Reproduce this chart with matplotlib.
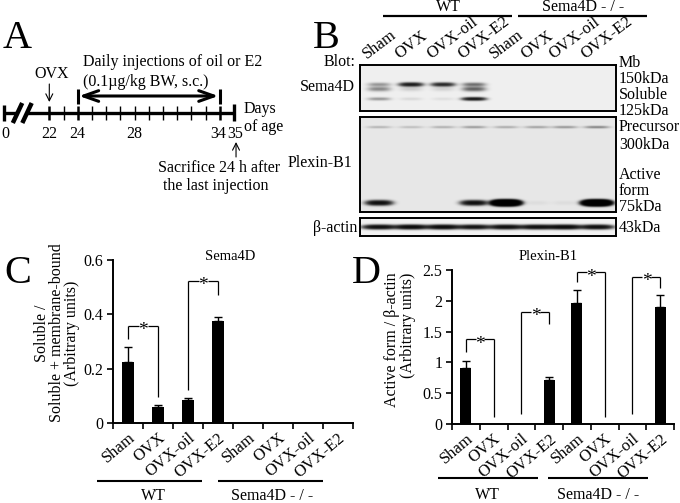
import numpy as np
import matplotlib
matplotlib.use('Agg')
import matplotlib.pyplot as plt
from matplotlib.patches import FancyArrowPatch, ArrowStyle

plt.rcParams['font.family'] = ['Liberation Serif', 'DejaVu Serif']
plt.rcParams['lines.solid_capstyle'] = 'butt'

# ---------------- data ----------------
groups = ['WT', 'Sema4D - / -']
treatments = ['Sham', 'OVX', 'OVX-oil', 'OVX-E2']
categories = treatments * 2

sema4d_ratio = [0.226, 0.060, 0.085, 0.377, 0, 0, 0, 0]
sema4d_err = [0.053, 0.006, 0.006, 0.014, 0, 0, 0, 0]
plexin_ratio = [0.91, 0, 0, 0.72, 1.97, 0, 0, 1.90]
plexin_err = [0.11, 0, 0, 0.05, 0.205, 0, 0, 0.20]

# significance brackets: (left bar, right bar, bracket height, left leg end, right leg end)
sema4d_sig = [(0, 1, 0.357, 0.31, 0.096), (2, 3, 0.523, 0.12, 0.47)]
plexin_sig = [(0, 1, 1.375, 1.17, 0.12), (2, 3, 1.82, 0.17, 1.63),
              (4, 5, 2.46, 2.31, 0.12), (6, 7, 2.39, 0.17, 2.20)]

timeline_days = list(range(22, 36))
timeline_labels = {22: '22', 24: '24', 28: '28', 34: '34', 35: '35'}
major_days = [22, 24, 34, 35]
ovx_day = 22
injection_days = (24, 34)
sacrifice_day = 35

# blot band densities per lane (Sham, OVX, OVX-oil, OVX-E2) x (WT, KO)
sema4d_mb_a = [0.18, 0.85, 0.70, 0.30, 0, 0, 0, 0]
sema4d_mb_b = [0.22, 0.06, 0.05, 0.35, 0, 0, 0, 0]
sema4d_soluble = [0.18, 0.04, 0.03, 0.90, 0, 0, 0, 0.0]
plexin_precursor = [0.10, 0.08, 0.11, 0.16, 0.12, 0.14, 0.17, 0.22]
plexin_active = [1.1, 0, 0, 1.1, 7.0, 0.02, 0.02, 7.0]
actin = [1.1, 1.2, 1.2, 1.0, 1.1, 1.1, 1.2, 1.1]

# ---------------- layout ----------------
W, H = 680, 503
fig = plt.figure(figsize=(6.8, 5.03), dpi=100)


def add_ax(x0, y0, x1, y1, **kw):
    return fig.add_axes([x0 / W, 1 - y1 / H, (x1 - x0) / W, (y1 - y0) / H], **kw)


ov = add_ax(0, 0, W, H)
ov.set_xlim(0, W)
ov.set_ylim(H, 0)
ov.axis('off')


def T(x, y, s, **kw):
    kw.setdefault('fontsize', 11)
    kw.setdefault('ha', 'center')
    kw.setdefault('va', 'center')
    ov.text(x, y, s, **kw)


def L(xs, ys, lw=1.5):
    ov.plot(xs, ys, color='black', lw=lw, solid_capstyle='butt')


# ---------------- panel A ----------------
px0, pday = 49.3, 14.2
axA = add_ax(0, 0, 300, 250)
axA.set_xlim(22 - px0 / pday, 22 + (300 - px0) / pday)
axA.set_ylim(250, 0)
axA.axis('off')
axA.patch.set_alpha(0)
d0 = 22 - (px0 - 3.5) / pday
b1 = d0 + 14.0 / pday
b2 = d0 + 23.5 / pday
yl = 113
axA.plot([d0, b1], [yl, yl], color='k', lw=2.4)
axA.plot([b2, timeline_days[-1]], [yl, yl], color='k', lw=2.4)
for b in (b1, b2):
    axA.plot([b - 0.33, b + 0.33], [123, 103], color='k', lw=3.2)
axA.plot([d0, d0], [105, 121], color='k', lw=2.4)
for d in timeline_days:
    if d == timeline_days[-1]:
        axA.plot([d, d], [104, 121], color='k', lw=2.4)
    elif d in major_days:
        axA.plot([d, d], [106, 120], color='k', lw=1.8)
    else:
        axA.plot([d, d], [106, 120], color='k', lw=1.0)
axA.text(d0 + 0.1, 134, '0', fontsize=11.5, ha='center', va='center')
for d, s in timeline_labels.items():
    dx = -0.1 if d == 34 else (0.1 if d == 35 else 0)
    axA.text(d + dx, 134, s, fontsize=11.5, ha='center', va='center')
for d in injection_days:
    axA.plot([d, d], [89, 104], color='k', lw=2.2)
axA.add_patch(FancyArrowPatch((injection_days[0], 96), (injection_days[1], 96),
                              arrowstyle=ArrowStyle('<->', head_length=0.9, head_width=0.32),
                              mutation_scale=12, lw=2.2, color='k', shrinkA=1, shrinkB=1))
axA.add_patch(FancyArrowPatch((ovx_day, 84), (ovx_day, 102),
                              arrowstyle=ArrowStyle('->', head_length=0.5, head_width=0.25),
                              mutation_scale=10, lw=0.8, color='k', shrinkA=0, shrinkB=0))
axA.add_patch(FancyArrowPatch((sacrifice_day + 0.15, 157), (sacrifice_day + 0.15, 142),
                              arrowstyle=ArrowStyle('->', head_length=0.5, head_width=0.25),
                              mutation_scale=10, lw=0.8, color='k', shrinkA=0, shrinkB=0))

T(3, 48, 'A', fontsize=29, ha='left', va='baseline')
T(83, 62, 'Daily injections of oil or E2', ha='left', fontsize=11.5)
T(83, 82, '(0.1µg/kg BW, s.c.)', ha='left', fontsize=11.5)
T(52, 74, 'OVX', fontsize=11.5)
T(244, 118, 'Days\nof age', ha='left', fontsize=11.5, linespacing=1.15)
T(219, 168, 'Sacrifice 24 h after', fontsize=11.5)
T(216, 186, 'the last injection', fontsize=11.5)

# ---------------- panel B (blots) ----------------
lanes = [379, 411, 443, 474, 506, 537, 565, 597]


def blot(y0, y1, bg, bands, x0=360, x1=616):
    ax = add_ax(x0, y0, x1, y1)
    res = 3
    X = np.linspace(x0, x1, (x1 - x0) * res)
    Y = np.linspace(y0, y1, (y1 - y0) * res)
    XX, YY = np.meshgrid(X, Y)
    dens = np.zeros_like(XX)
    for yc, wy, wx, inten in bands:
        for xc, I in zip(lanes, inten):
            if I <= 0:
                continue
            dens += I * np.exp(-np.abs((XX - xc) / wx) ** 3) * np.exp(-((YY - yc) / wy) ** 2)
    img = bg * np.exp(-2.6 * dens)
    ax.imshow(img, cmap='gray', vmin=0, vmax=1, extent=(x0, x1, y1, y0),
              aspect='auto', interpolation='bilinear')
    ax.set_xticks([])
    ax.set_yticks([])
    for s in ax.spines.values():
        s.set_linewidth(1.4)
    return ax


blot(65, 111, 0.94, [(84.5, 1.8, 11, sema4d_mb_a), (89, 2.2, 11, sema4d_mb_b),
                     (99, 1.5, 11, sema4d_soluble)])
blot(117, 212, 0.91, [(127, 1.2, 12, plexin_precursor), (203, 2.2, 12, plexin_active)])
blot(218, 236, 0.95, [(227, 2.0, 15, actin)])

T(313, 48, 'B', fontsize=29, ha='left', va='baseline')
T(448, 7, groups[0], fontsize=11.5)
L([383, 512], [16, 16], lw=1.6)
T(583, 7, groups[1], fontsize=11.5)
L([518, 647], [16, 16], lw=1.6)
for xc, c in zip(lanes, categories):
    T(xc - 12, 59, c, rotation=37, rotation_mode='anchor', ha='left', va='baseline', fontsize=12)
T(355, 62, 'Blot:', ha='right', fontsize=11.5)
T(355, 87, 'Sema4D', ha='right', fontsize=11.5)
T(352, 163, 'Plexin-B1', ha='right', fontsize=11.5)
T(357, 228, 'β-actin', ha='right', fontsize=11.5)
T(619, 87, 'Mb\n150kDa\nSoluble\n125kDa', ha='left', fontsize=11.5, linespacing=0.98)
T(619, 136, 'Precursor\n300kDa', ha='left', fontsize=11.5, linespacing=1.2)
T(619, 191, 'Active\nform\n75kDa', ha='left', fontsize=11.5, linespacing=0.98)
T(619, 228, '43kDa', ha='left', fontsize=11.5)


# ---------------- panels C and D ----------------
def bar_panel(x0, x1, ytop, ybot, ymax, yticks, yticklabels, values, errs, sigs):
    ax = add_ax(x0, ytop, x1, ybot)
    ax.patch.set_alpha(0)
    xs = np.arange(len(categories))
    ax.set_xlim(-0.5, len(categories) - 0.5)
    ax.set_ylim(0, ymax)
    ax.bar(xs, values, width=0.4, color='black', zorder=3)
    for x, v, e in zip(xs, values, errs):
        if e > 0:
            ax.errorbar(x, v, yerr=[[0], [e]], fmt='none', ecolor='black',
                        elinewidth=1.0, capsize=3, capthick=1.0, zorder=2)
    for s in ('top', 'right'):
        ax.spines[s].set_visible(False)
    for s in ('left', 'bottom'):
        ax.spines[s].set_linewidth(1.4)
    ax.set_yticks(yticks)
    ax.set_yticklabels(yticklabels, fontsize=11.5)
    ax.tick_params(axis='y', direction='out', length=4, width=1.2, pad=3)
    ax.set_xticks(np.arange(-0.5, len(categories), 1.0))
    ax.set_xticklabels([])
    ax.tick_params(axis='x', which='major', direction='out', length=4, width=1.2)
    ax.set_xticks(xs, minor=True)
    ax.set_xticklabels(categories, minor=True, rotation=40, ha='right',
                       rotation_mode='anchor', fontsize=12)
    ax.tick_params(axis='x', which='minor', length=0, pad=5)
    for i, j, yh, yli, yri in sigs:
        kw = dict(color='black', lw=0.9, clip_on=False)
        ax.plot([i, i], [yli, yh], **kw)
        ax.plot([j, j], [yri, yh], **kw)
        mid = (i + j) / 2
        ax.plot([i, mid - 0.14], [yh, yh], **kw)
        ax.plot([mid + 0.16, j], [yh, yh], **kw)
        ax.annotate('*', xy=(mid + 0.01, yh), xytext=(0, -3.5), textcoords='offset points',
                    ha='center', va='center', fontsize=14)
    return ax


bar_panel(113, 353, 260, 423, 0.6, [0, 0.2, 0.4, 0.6], ['0', '0.2', '0.4', '0.6'],
          sema4d_ratio, sema4d_err, sema4d_sig)
T(4, 283, 'C', fontsize=29, ha='left', va='baseline')
T(230, 257, 'Sema4D', fontsize=10.5)
T(57, 333, 'Soluble /\nSoluble + membrane-bound\n(Arbitrary units)', rotation=90,
  fontsize=11.5, multialignment='center', linespacing=0.95)
L([97, 202], [481, 481])
L([218, 323], [481, 481])
T(153, 496, groups[0], fontsize=11.5)
T(272, 496, groups[1], fontsize=11.5)

bar_panel(452, 674, 270, 424, 2.5, [0, 0.5, 1, 1.5, 2, 2.5],
          ['0', '0.5', '1', '1.5', '2', '2.5'], plexin_ratio, plexin_err, plexin_sig)
T(352, 283, 'D', fontsize=29, ha='left', va='baseline')
T(548, 257, 'Plexin-B1', fontsize=10.5)
T(400, 340, 'Active form / β-actin\n(Arbitrary units)', rotation=90, fontsize=11.5,
  multialignment='right', linespacing=0.95)
L([438, 538], [478, 478])
L([548, 648], [478, 478])
T(487, 495, groups[0], fontsize=11.5)
T(598, 495, groups[1], fontsize=11.5)

fig.savefig('out.png', dpi=100)
